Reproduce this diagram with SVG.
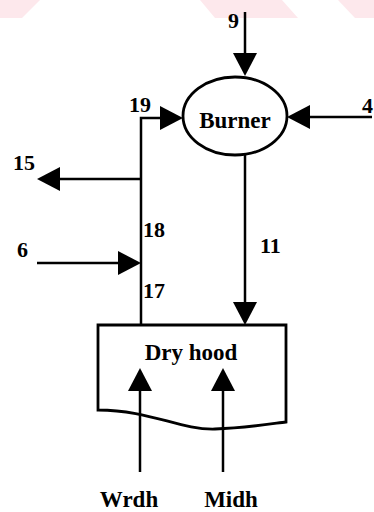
<svg xmlns="http://www.w3.org/2000/svg" width="374" height="512" viewBox="0 0 374 512">
  <style>
    .ln { fill: none; stroke: #000; stroke-width: 2.5; }
    .shape { fill: #fff; stroke: #000; stroke-width: 2.8; }
    .lbl { font-family: "Liberation Serif", "Times New Roman", serif; font-weight: bold; font-size: 22px; fill: #000; }
    .nm { font-family: "Liberation Serif", "Times New Roman", serif; font-weight: bold; font-size: 23px; fill: #000; }
    .wm { fill: #fde8ec; }
  </style>
  <defs>
    <marker id="ah" markerUnits="userSpaceOnUse" markerWidth="24" markerHeight="24" viewBox="0 0 23 24" refX="13" refY="12" orient="auto">
      <path d="M0,0 L23,12 L0,24 Z" fill="#000"/>
    </marker>
  </defs>
  <rect x="0" y="0" width="374" height="512" fill="#fff"/>
  <g id="watermark">
    <polygon class="wm" points="0,0 40,0 22,18 0,18"/>
    <polygon class="wm" points="200,0 282,0 298,18 215,18"/>
    <polygon class="wm" points="338,0 374,0 374,18 355,18"/>
  </g>
  <g id="connectors">
    <path class="ln" d="M245,12 L245,66" marker-end="url(#ah)"/>
    <path class="ln" d="M372,117 L297,117" marker-end="url(#ah)"/>
    <path class="ln" d="M141,325 L141,118 L173,118" marker-end="url(#ah)"/>
    <path class="ln" d="M141,179 L47,179" marker-end="url(#ah)"/>
    <path class="ln" d="M37,263 L131,263" marker-end="url(#ah)"/>
    <path class="ln" d="M245,155 L245,315" marker-end="url(#ah)"/>
  </g>
  <g id="burner">
    <ellipse class="shape" cx="235" cy="116" rx="52" ry="39"/>
    <text class="nm" x="235" y="128" text-anchor="middle">Burner</text>
  </g>
  <g id="dryhood">
    <path class="shape" d="M98,325 L286,325 L286,422 C270,424 245,428 215,429 C180,430 150,410 98,410 Z"/>
    <text class="nm" x="191" y="360" text-anchor="middle">Dry hood</text>
  </g>
  <g id="inputs">
    <path class="ln" d="M140,472 L140,378" marker-end="url(#ah)"/>
    <path class="ln" d="M223,472 L223,378" marker-end="url(#ah)"/>
  </g>
  <g id="labels">
    <text class="lbl" x="228" y="28">9</text>
    <text class="lbl" x="362" y="113">4</text>
    <text class="lbl" x="129" y="112">19</text>
    <text class="lbl" x="13" y="170">15</text>
    <text class="lbl" x="143" y="237">18</text>
    <text class="lbl" x="17" y="257">6</text>
    <text class="lbl" x="143" y="298">17</text>
    <text class="lbl" x="260" y="253">11</text>
    <text class="nm" x="129" y="507" text-anchor="middle">Wrdh</text>
    <text class="nm" x="231" y="507" text-anchor="middle">Midh</text>
  </g>
</svg>
